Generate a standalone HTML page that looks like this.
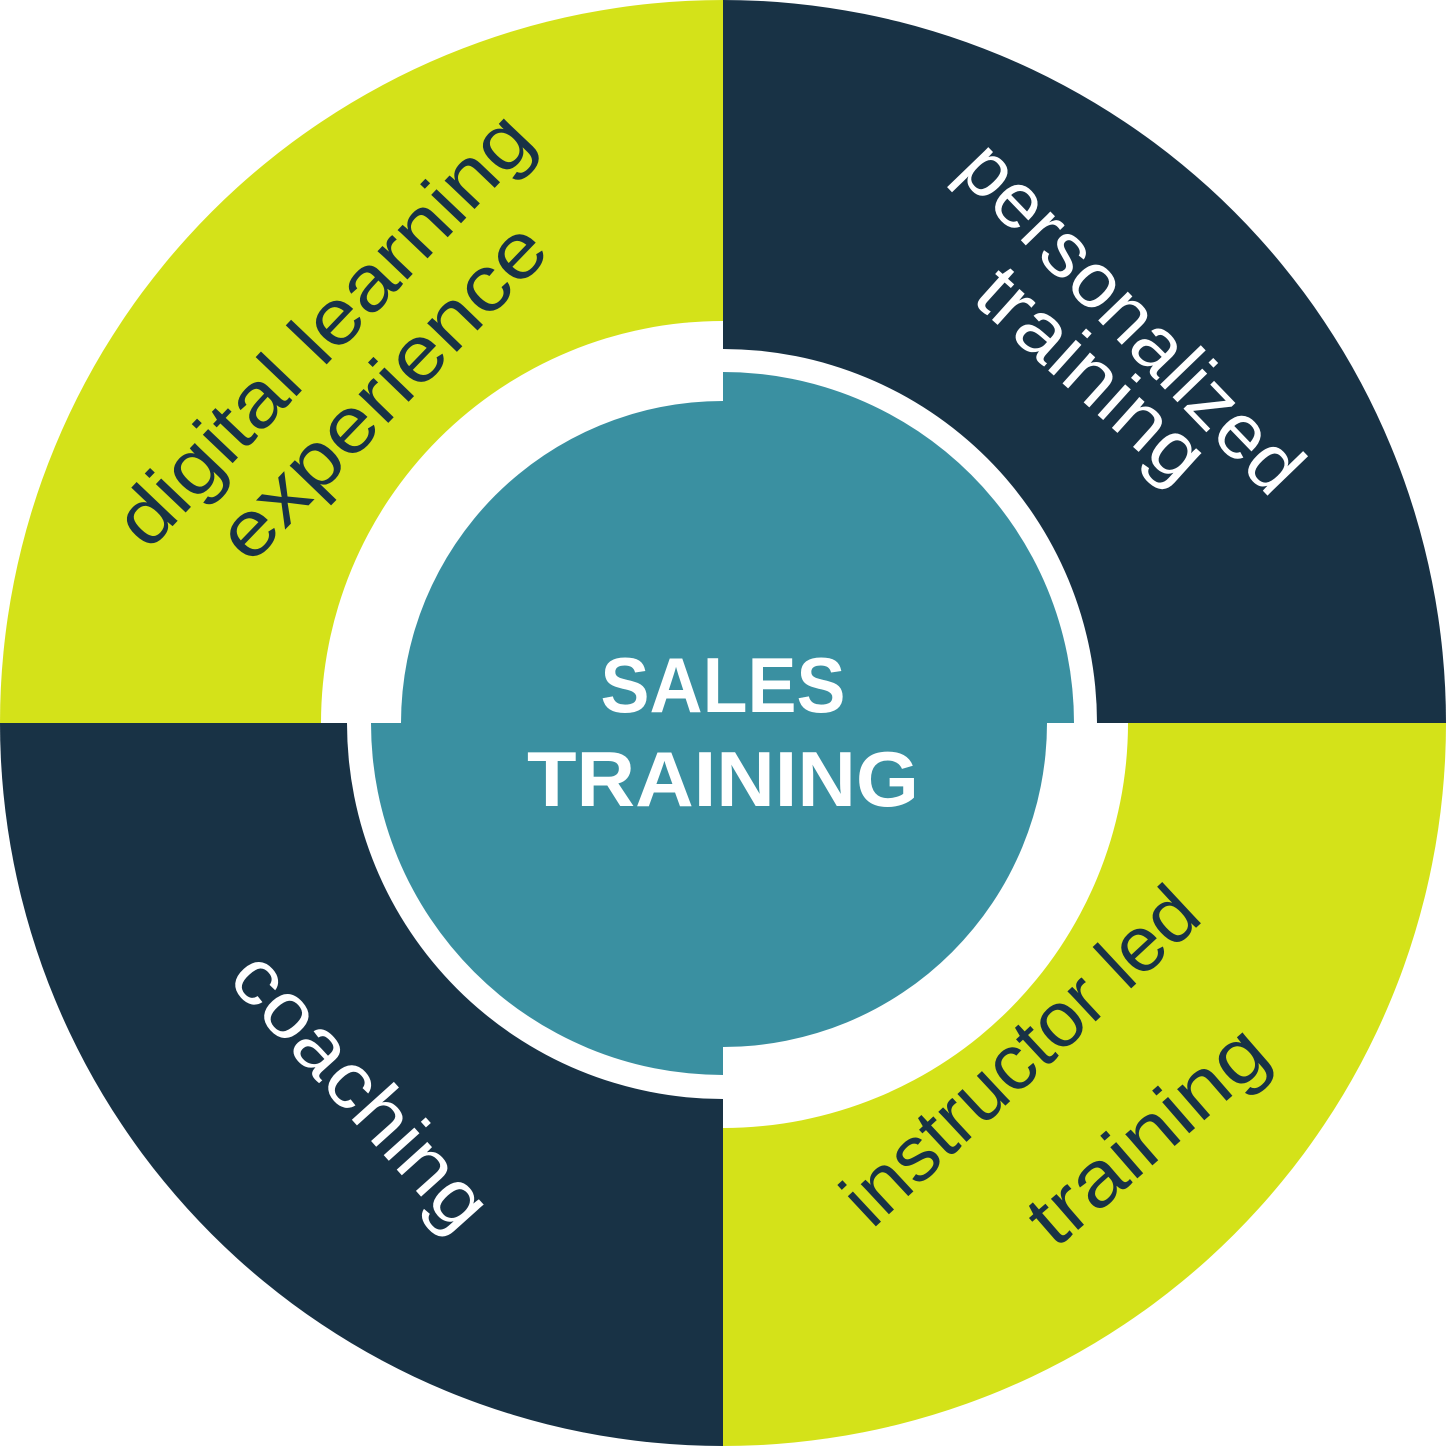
<!DOCTYPE html>
<html><head><meta charset="utf-8"><style>
html,body{margin:0;padding:0;background:#fff;}
svg{display:block;}
text{font-family:"Liberation Sans",sans-serif;}
</style></head><body>
<svg width="1447" height="1447" viewBox="0 0 1447 1447" xmlns="http://www.w3.org/2000/svg">
<rect width="1447" height="1447" fill="#fff"/>
<path d="M723,723 L0,723 A723,723 0 0 1 723,0 Z" fill="#d4e219"/>
<path d="M723,723 L723,0 A723,723 0 0 1 1446,723 Z" fill="#183245"/>
<path d="M723,723 L1446,723 A723,723 0 0 1 723,1446 Z" fill="#d4e219"/>
<path d="M723,723 L723,1446 A723,723 0 0 1 0,723 Z" fill="#183245"/>
<path d="M723,723 L321,723 A402,402 0 0 1 723,321 Z" fill="#fff"/>
<path d="M723,723 L723,349 A374,374 0 0 1 1097,723 Z" fill="#fff"/>
<path d="M723,723 L1128,723 A405,405 0 0 1 723,1128 Z" fill="#fff"/>
<path d="M723,723 L723,1099 A376,376 0 0 1 347,723 Z" fill="#fff"/>
<path d="M723,723 L401,723 A322,322 0 0 1 723,401 Z" fill="#3a90a1"/>
<path d="M723,723 L723,372 A351,351 0 0 1 1074,723 Z" fill="#3a90a1"/>
<path d="M723,723 L1047,723 A324,324 0 0 1 723,1047 Z" fill="#3a90a1"/>
<path d="M723,723 L723,1075 A352,352 0 0 1 371,723 Z" fill="#3a90a1"/>
<text x="723" y="712" text-anchor="middle" font-size="78" font-weight="bold" fill="#fff" textLength="245" lengthAdjust="spacingAndGlyphs">SALES</text>
<text x="723" y="806" text-anchor="middle" font-size="78" font-weight="bold" fill="#fff" textLength="392" lengthAdjust="spacingAndGlyphs">TRAINING</text>
<g fill="#183245" font-size="78">
<text transform="translate(148,552) rotate(-46.4)" textLength="565" lengthAdjust="spacingAndGlyphs">digital learning</text>
<text transform="translate(250,566) rotate(-46)" textLength="435" lengthAdjust="spacingAndGlyphs">experience</text>
<text transform="translate(872,1230) rotate(-43)" textLength="455" lengthAdjust="spacingAndGlyphs">instructor led</text>
<text transform="translate(1055,1250) rotate(-41)" textLength="290" lengthAdjust="spacingAndGlyphs">training</text>
</g>
<g fill="#fff" font-size="78">
<text transform="translate(955,172) rotate(46)" textLength="455" lengthAdjust="spacingAndGlyphs">personalized</text>
<text transform="translate(970,300) rotate(42)" textLength="280" lengthAdjust="spacingAndGlyphs">training</text>
<text transform="translate(226,980) rotate(48)" textLength="345" lengthAdjust="spacingAndGlyphs">coaching</text>
</g>
</svg>
</body></html>
